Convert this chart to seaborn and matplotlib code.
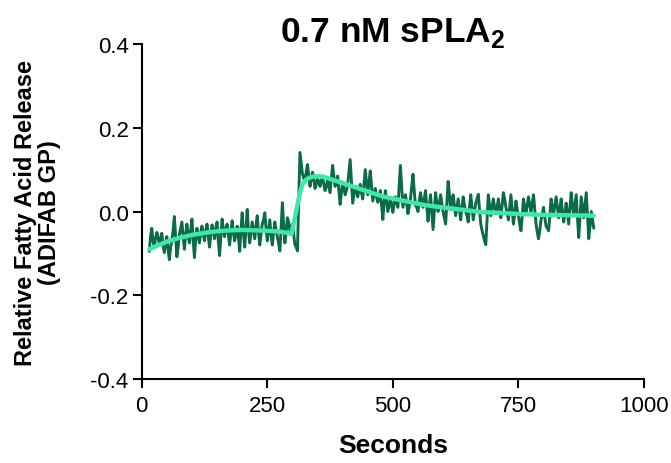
import numpy as np
import pandas as pd
import matplotlib
matplotlib.use("Agg")
import matplotlib.pyplot as plt
import seaborn as sns

# ---- data ----
# samples at 15, 20, ..., 900 s
raw_values_a = [
    -0.095, -0.040, -0.085, -0.050, -0.078, -0.052, -0.098, -0.060, -0.115, -0.070,
    -0.012, -0.108, -0.055, -0.025, -0.090, -0.030, -0.075, -0.018, -0.110, -0.040,
    -0.075, -0.035, -0.070, -0.030, -0.085, -0.032, -0.065, -0.025, -0.105, -0.018,
    -0.060, -0.030, -0.080, -0.022, -0.070, -0.035, -0.095, -0.003, -0.085, 0.005,
    -0.075, -0.025, -0.065, -0.010, -0.080, -0.030, -0.003, -0.070, -0.020, -0.080,
    -0.025, -0.060, -0.094, 0.021, -0.075, -0.015, -0.045, -0.030, -0.079, -0.094,
    0.141, 0.090, 0.070, 0.112, 0.060, 0.094, 0.055, 0.078, 0.060, 0.085,
    0.050, 0.075, 0.045, 0.110, 0.060, 0.085, 0.017, 0.070, 0.040, 0.065,
    0.124, 0.020, 0.060, 0.035, 0.065, 0.030, 0.100, 0.040, 0.097, 0.025,
    0.055, 0.022, 0.050, -0.019, 0.050, 0.000, 0.030, -0.002, 0.035, 0.010,
    0.110, 0.010, 0.040, -0.005, 0.030, 0.089, 0.015, 0.000, 0.045, 0.010,
    0.050, -0.023, 0.040, -0.043, 0.045, 0.000, 0.040, 0.000, -0.030, 0.072,
    0.005, 0.040, -0.010, 0.030, -0.020, 0.035, 0.000, -0.025, 0.040, -0.020,
    0.020, 0.041, -0.030, -0.058, -0.079, 0.040, -0.010, 0.030, -0.005, 0.030,
    -0.015, 0.045, 0.010, -0.020, 0.040, -0.030, 0.025, -0.010, -0.046, 0.030,
    -0.005, 0.035, 0.000, 0.040, -0.030, -0.065, -0.020, 0.010, -0.035, -0.046,
    0.030, -0.005, 0.035, -0.015, 0.030, -0.025, 0.020, -0.030, 0.045, -0.010,
    0.040, -0.062, 0.035, -0.015, 0.045, -0.065, 0.000, -0.040,
]
# samples at 17.5, 22.5, ..., 897.5 s
raw_values_b = [
    -0.060, -0.070, -0.065, -0.060, -0.070, -0.080, -0.075, -0.090, -0.085, -0.045,
    -0.060, -0.085, -0.040, -0.060, -0.055, -0.060, -0.045, -0.070, -0.065, -0.060,
    -0.050, -0.055, -0.045, -0.060, -0.055, -0.045, -0.040, -0.070, -0.060, -0.045,
    -0.040, -0.055, -0.050, -0.050, -0.055, -0.060, -0.045, -0.050, -0.040, -0.045,
    -0.050, -0.045, -0.035, -0.050, -0.055, -0.020, -0.040, -0.045, -0.055, -0.050,
    -0.045, -0.075, -0.040, -0.030, -0.050, -0.025, -0.040, -0.055, -0.085, 0.020,
    0.115, 0.080, 0.095, 0.085, 0.075, 0.080, 0.065, 0.070, 0.075, 0.065,
    0.060, 0.060, 0.080, 0.085, 0.070, 0.050, 0.045, 0.055, 0.050, 0.095,
    0.070, 0.040, 0.050, 0.050, 0.045, 0.065, 0.070, 0.070, 0.060, 0.040,
    0.035, 0.035, 0.015, 0.020, 0.025, 0.015, 0.015, 0.020, 0.020, 0.060,
    0.060, 0.025, 0.020, 0.010, 0.060, 0.050, 0.010, 0.025, 0.025, 0.030,
    0.015, 0.010, 0.000, 0.000, 0.020, 0.020, 0.020, -0.015, 0.020, 0.040,
    0.025, 0.015, 0.010, 0.005, 0.010, 0.015, -0.010, 0.010, 0.010, 0.000,
    0.030, 0.005, -0.045, -0.070, -0.020, 0.015, 0.010, 0.010, 0.010, 0.005,
    0.015, 0.030, -0.005, 0.010, 0.005, -0.005, 0.005, -0.030, -0.010, 0.010,
    0.015, 0.015, 0.020, 0.005, -0.050, -0.045, -0.005, -0.015, -0.040, -0.010,
    0.010, 0.015, 0.010, 0.005, 0.000, -0.005, -0.005, 0.010, 0.015, 0.015,
    -0.015, -0.015, 0.010, 0.015, -0.010, -0.035, -0.020,
]
raw_seconds = [15 + 2.5 * i for i in range(2 * len(raw_values_a) - 1)]
raw_values = [v for pair in zip(raw_values_a, raw_values_b) for v in pair] + [raw_values_a[-1]]

fit_seconds = [15, 30, 50, 75, 100, 125, 150, 175, 200, 225, 250, 275, 290, 298,
               304, 310, 315, 320, 327, 334, 344, 354, 367, 380, 400, 427, 454,
               480, 524, 560, 604, 640, 674, 720, 754, 800, 850, 900]
fit_values = [-0.090, -0.082, -0.072, -0.063, -0.056, -0.051, -0.047, -0.045,
              -0.044, -0.045, -0.046, -0.048, -0.051, -0.054, -0.020, 0.015,
              0.045, 0.065, 0.076, 0.081, 0.084, 0.084, 0.081, 0.076, 0.068,
              0.057, 0.046, 0.036, 0.025, 0.016, 0.009, 0.004, -0.001, -0.004,
              -0.006, -0.008, -0.009, -0.010]

x_ticks = [0, 250, 500, 750, 1000]
x_tick_labels = ["0", "250", "500", "750", "1000"]
y_ticks = [-0.4, -0.2, 0.0, 0.2, 0.4]
y_tick_labels = ["-0.4", "-0.2", "0.0", "0.2", "0.4"]

title_text = r"0.7 nM sPLA$_\mathbf{2}$"
x_label = "Seconds"
y_label = "Relative Fatty Acid Release\n(ADIFAB GP)"

# ---- style ----
sns.set_style("ticks")
plt.rcParams["font.family"] = ["Liberation Sans", "DejaVu Sans"]
plt.rcParams["mathtext.fontset"] = "custom"
plt.rcParams["mathtext.rm"] = "Liberation Sans"
plt.rcParams["mathtext.bf"] = "Liberation Sans:bold"
for key in ["text.color", "axes.labelcolor", "xtick.color", "ytick.color"]:
    plt.rcParams[key] = "black"

raw_df = pd.DataFrame({"Seconds": raw_seconds, "Value": raw_values})
fit_df = pd.DataFrame({"Seconds": fit_seconds, "Value": fit_values})

fig = plt.figure(figsize=(6.71, 4.64), dpi=100)
ax = fig.add_axes([0.2112, 0.181, 0.7486, 0.722])

sns.lineplot(data=raw_df, x="Seconds", y="Value", ax=ax, color="#0b6b47",
             linewidth=2.1, estimator=None, sort=False)
sns.lineplot(data=fit_df, x="Seconds", y="Value", ax=ax, color="#3de8a8",
             linewidth=3.2, estimator=None, sort=False)

ax.set_xlim(0, 1000)
ax.set_ylim(-0.4, 0.4)
ax.set_xticks(x_ticks)
ax.set_xticklabels(x_tick_labels)
ax.set_yticks(y_ticks)
ax.set_yticklabels(y_tick_labels)
ax.tick_params(axis="both", direction="out", length=6.5, width=1.5,
               labelsize=16, color="black", labelcolor="black")
ax.tick_params(axis="x", pad=5)
ax.tick_params(axis="y", pad=3)

for side in ["top", "right"]:
    ax.spines[side].set_visible(False)
for side in ["left", "bottom"]:
    ax.spines[side].set_linewidth(1.5)
    ax.spines[side].set_color("black")

ax.set_xlabel(x_label, fontsize=19, fontweight="bold", labelpad=12)
ax.set_ylabel(y_label, fontsize=17, fontweight="bold", labelpad=21,
              linespacing=1.05)
ax.text(0.5, 1.009, title_text, transform=ax.transAxes, ha="center",
        va="baseline", fontsize=25.5, fontweight="bold")

fig.savefig("out.png", dpi=100)
